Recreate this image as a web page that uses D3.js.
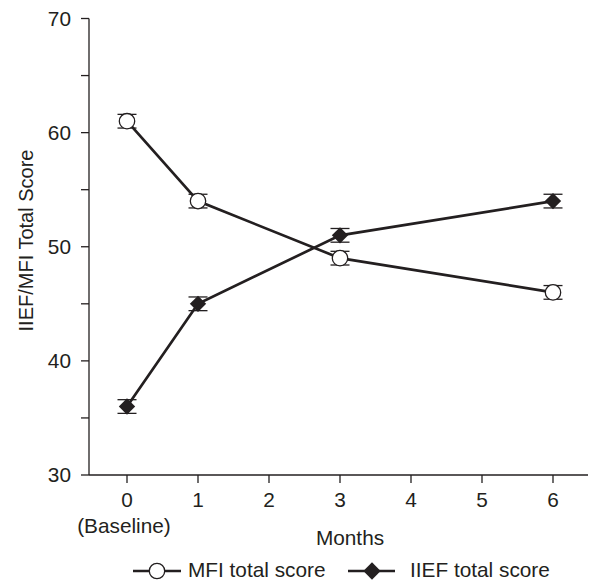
<!DOCTYPE html>
<html>
<head>
<meta charset="utf-8">
<script src="https://cdn.jsdelivr.net/npm/d3@7"></script>
<style>
  html, body { margin: 0; padding: 0; background: #fff; }
  svg text { font-family: "Liberation Sans", Arial, Helvetica, sans-serif; fill: #231f20; }
</style>
</head>
<body>
<svg id="chart" width="589" height="584"></svg>
<script>
// Study time points (months) and mean scores with error
const months = [0, 1, 3, 6];
const mfiScores = [61, 54, 49, 46];
const mfiErrors = [0.6, 0.6, 0.6, 0.6];
const iiefScores = [36, 45, 51, 54];
const iiefErrors = [0.6, 0.6, 0.6, 0.6];
const xTicks = [0, 1, 2, 3, 4, 5, 6];
const yTicks = [30, 40, 50, 60, 70];
const yMinorTicks = [35, 45, 55, 65];

const svg = d3.select("#chart");
const ink = "#231f20";
const fs = 20.8;

const x = d3.scaleLinear().domain([0, 6]).range([127, 553]);
const y = d3.scaleLinear().domain([30, 70]).range([475, 18.5]);

// Y axis
svg.append("line").attr("x1", 89).attr("x2", 89).attr("y1", y(70)).attr("y2", y(30))
  .attr("stroke", ink).attr("stroke-width", 1.3);
svg.selectAll(".ytick").data(yTicks.concat(yMinorTicks)).join("line")
  .attr("x1", 81).attr("x2", 89).attr("y1", d => y(d)).attr("y2", d => y(d))
  .attr("stroke", ink).attr("stroke-width", 1.3);
svg.selectAll(".ylab").data(yTicks).join("text")
  .attr("x", 71).attr("y", d => y(d)).attr("dy", "0.36em")
  .attr("text-anchor", "end").attr("font-size", fs).text(d => d);

// X axis
svg.append("line").attr("x1", 89).attr("x2", 588).attr("y1", 475).attr("y2", 475)
  .attr("stroke", ink).attr("stroke-width", 1.3);
svg.selectAll(".xtick").data(xTicks).join("line")
  .attr("x1", d => x(d)).attr("x2", d => x(d)).attr("y1", 475).attr("y2", 483)
  .attr("stroke", ink).attr("stroke-width", 1.3);
svg.selectAll(".xlab").data(xTicks).join("text")
  .attr("x", d => x(d)).attr("y", 507)
  .attr("text-anchor", "middle").attr("font-size", fs).text(d => d);
svg.append("text").attr("x", 124).attr("y", 533).attr("text-anchor", "middle")
  .attr("font-size", fs).text("(Baseline)");
svg.append("text").attr("x", 350).attr("y", 545).attr("text-anchor", "middle")
  .attr("font-size", fs).text("Months");

// Y axis title
svg.append("text").attr("transform", "translate(33,240.5) rotate(-90)")
  .attr("text-anchor", "middle").attr("font-size", 20).text("IIEF/MFI Total Score");

const line = d3.line().x(d => x(d[0])).y(d => y(d[1]));
const diamond = d3.symbol().type(d3.symbolDiamond2).size(170);
const legendDiamond = d3.symbol().type(d3.symbolDiamond2).size(190);

function drawSeries(values, errors, isDiamond) {
  const pts = months.map((m, i) => [m, values[i], errors[i]]);
  svg.append("path").datum(pts).attr("d", line)
    .attr("fill", "none").attr("stroke", ink).attr("stroke-width", 2.7);
  const g = svg.append("g").selectAll("g").data(pts).join("g");
  g.append("line").attr("x1", d => x(d[0])).attr("x2", d => x(d[0]))
    .attr("y1", d => y(d[1] + d[2])).attr("y2", d => y(d[1] - d[2]))
    .attr("stroke", ink).attr("stroke-width", 1.3);
  [1, -1].forEach(s => {
    g.append("line").attr("x1", d => x(d[0]) - 9.5).attr("x2", d => x(d[0]) + 9.5)
      .attr("y1", d => y(d[1] + s * d[2])).attr("y2", d => y(d[1] + s * d[2]))
      .attr("stroke", ink).attr("stroke-width", 1.3);
  });
  if (isDiamond) {
    g.append("path").attr("d", diamond)
      .attr("transform", d => `translate(${x(d[0])},${y(d[1])})`)
      .attr("fill", ink);
  } else {
    g.append("circle").attr("cx", d => x(d[0])).attr("cy", d => y(d[1])).attr("r", 7.7)
      .attr("fill", "#fff").attr("stroke", ink).attr("stroke-width", 1.3);
  }
}
drawSeries(mfiScores, mfiErrors, false);
drawSeries(iiefScores, iiefErrors, true);

// Legend
const ly = 571;
svg.append("line").attr("x1", 133).attr("x2", 181).attr("y1", ly).attr("y2", ly)
  .attr("stroke", ink).attr("stroke-width", 2.4);
svg.append("circle").attr("cx", 157).attr("cy", ly).attr("r", 7.7)
  .attr("fill", "#fff").attr("stroke", ink).attr("stroke-width", 1.3);
svg.append("text").attr("x", 188).attr("y", 577)
  .attr("font-size", fs).text("MFI total score");
svg.append("line").attr("x1", 348).attr("x2", 395).attr("y1", ly).attr("y2", ly)
  .attr("stroke", ink).attr("stroke-width", 2.4);
svg.append("path").attr("d", legendDiamond).attr("transform", `translate(372,${ly})`).attr("fill", ink);
svg.append("text").attr("x", 410).attr("y", 577)
  .attr("font-size", fs).text("IIEF total score");
</script>
</body>
</html>
